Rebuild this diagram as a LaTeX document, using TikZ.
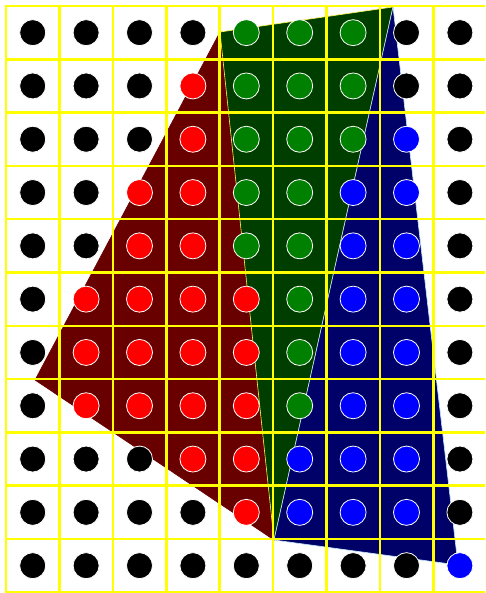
\documentclass[tikz,border=0pt]{standalone}
\definecolor{dotK}{RGB}{0,0,0}
\definecolor{dotR}{RGB}{255,0,0}
\definecolor{dotG}{RGB}{0,128,0}
\definecolor{dotB}{RGB}{0,0,255}
\definecolor{gridY}{RGB}{255,255,0}
\definecolor{fillR}{RGB}{105,0,0}
\definecolor{fillG}{RGB}{0,62,0}
\definecolor{fillB}{RGB}{0,0,105}
\tikzset{
  gridline/.style={gridY, line width=2.6pt},
  dot/.style={line width=0.8pt, draw=white},
  region/.style={line width=0.6pt}
}
\begin{document}
\begin{tikzpicture}[x=1pt,y=-1pt]
\useasboundingbox (0,0) rectangle (485,593);
\fill[white] (0,0) rectangle (485,593);
\begin{scope}
\clip (0,0) rectangle (485,593);
% regions
\coordinate (P1) at (220,32);
\coordinate (P2) at (393,7);
\coordinate (P3) at (274,540);
\coordinate (PL) at (35,380);
\coordinate (PR) at (458,565);
\filldraw[region, fill=fillR, draw=fillR] (P1) -- (PL) -- (P3) -- cycle;
\filldraw[region, fill=fillG, draw=yellow!70!white] (P1) -- (P2) -- (P3) -- cycle;
\filldraw[region, fill=fillB, draw=cyan!25!white] (P2) -- (PR) -- (P3) -- cycle;
% grid
\foreach \k in {0,...,9}
  \draw[gridline] (6+53.4*\k,6) -- (6+53.4*\k,592.3);
\foreach \r in {0,...,11}
  \draw[gridline] (4.7,6+53.3*\r) -- (490,6+53.3*\r);
% dots
\foreach \row [count=\r from 0] in {
  {K,K,K,K,G,G,G,K,K},
  {K,K,K,R,G,G,G,K,K},
  {K,K,K,R,G,G,G,B,K},
  {K,K,R,R,G,G,B,B,K},
  {K,K,R,R,G,G,B,B,K},
  {K,R,R,R,R,G,B,B,K},
  {K,R,R,R,R,G,B,B,K},
  {K,R,R,R,R,G,B,B,K},
  {K,K,K,R,R,B,B,B,K},
  {K,K,K,K,R,B,B,B,K},
  {K,K,K,K,K,K,K,K,B}}
{
  \foreach \c [count=\k from 0] in \row {
    \filldraw[dot, fill=dot\c] (32.7+53.4*\k, 32.65+53.3*\r) circle (13pt);
  }
}
\end{scope}
\end{tikzpicture}
\end{document}
